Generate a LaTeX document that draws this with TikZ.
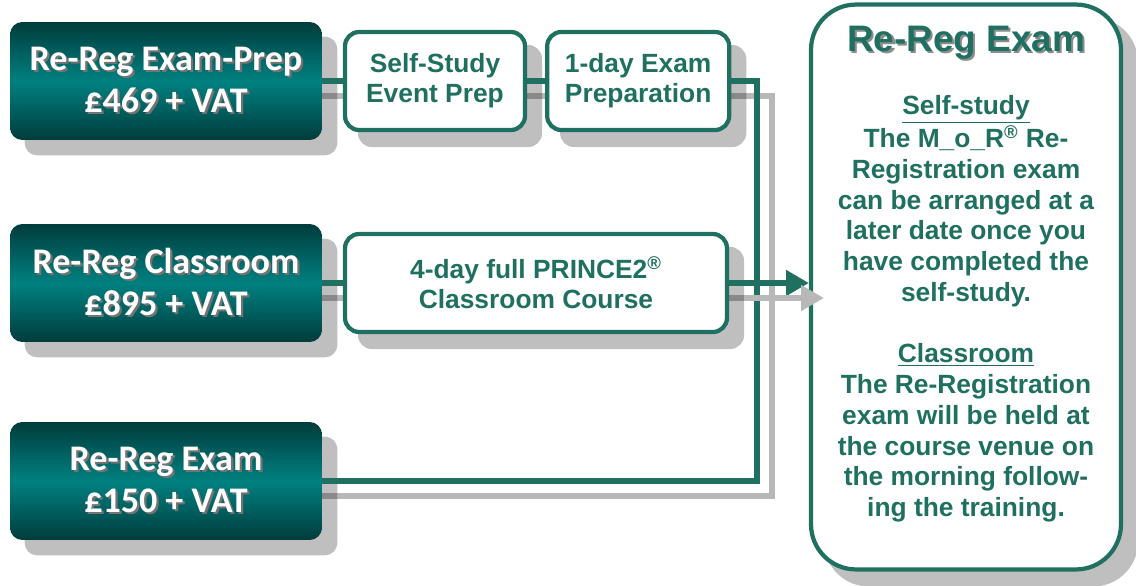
\documentclass[tikz,border=0pt]{standalone}
\usepackage{fontspec}
\setmainfont{Liberation Sans}
\newfontfamily\calibri{Carlito}
\usetikzlibrary{positioning,arrows.meta}
\definecolor{tealdark}{HTML}{003C3C}
\definecolor{tealmid}{HTML}{008080}
\definecolor{tealline}{HTML}{1F7060}
\pgfdeclarelayer{shade}
\pgfdeclarelayer{wires}
\pgfsetlayers{shade,wires,main}
\newcommand\shadowed[2][black!55]{\rlap{\kern1.3pt\raisebox{-1.3pt}{\textcolor{#1}{#2}}}#2}
\tikzset{
  pricebox/.style={rounded corners=7pt, minimum width=6.24cm, minimum height=2.36cm,
    top color=tealdark, bottom color=tealdark, middle color=tealmid,
    text=white, align=center, font=\calibri\bfseries\fontsize{20.5}{24}\selectfont},
  stepbox/.style={draw=tealline, line width=2.4pt, fill=white, rounded corners=8pt,
    minimum height=1.96cm, align=center, text=tealline,
    font=\bfseries\fontsize{15}{17}\selectfont},
  exambox/.style={draw=tealline, line width=2.4pt, fill=white, rounded corners=0.9cm,
    minimum width=6.2cm, minimum height=11.3cm},
  wire/.style={draw=tealline, line width=3.3pt},
  wireshade/.style={draw=black, opacity=0.28, line width=3.3pt},
  boxshade/.style={fill=black!25},
  offs/.style={shift={(15,15)}},
  tip/.style={-{Triangle[length=13pt,width=14pt]}}
}
\begin{document}
\begin{tikzpicture}[x=0.02cm,y=-0.02cm]
  \useasboundingbox (0,0) rectangle (1136,585);
  % prices on the left
  \node[pricebox] (prep) at (166,81) {\shadowed{Re-Reg Exam-Prep}\\\shadowed{£469 + VAT}};
  \node[pricebox] (class) at (166,283) {\shadowed{Re-Reg Classroom}\\\shadowed{£895 + VAT}};
  \node[pricebox] (exam) at (166,481) {\shadowed{Re-Reg Exam}\\\shadowed{£150 + VAT}};
  % course steps
  \node[stepbox, minimum width=3.6cm] (self) at (435,81) {Self-Study\\Event Prep};
  \node[stepbox, minimum width=3.64cm, right=0.36cm of self] (oneday) {1-day Exam\\Preparation};
  \node[stepbox, minimum width=7.64cm] (fourday) at (536,283) {4-day full PRINCE2\textsuperscript{®}\\Classroom Course};
  \coordinate (joint) at (757,283);
  % the exam itself
  \node[exambox] (rereg) at (966,287) {};
  \node[text=tealline, font=\bfseries\fontsize{21}{24}\selectfont] (title) at (966,44)
    {\shadowed[black!45]{Re-Reg Exam}};
  \node[text=tealline, align=center, font=\bfseries\fontsize{15}{17.5}\selectfont] (info) at (966,309)
    {\underline{Self-study}\\The M\_o\_R\textsuperscript{®} Re-\\Registration exam\\can be arranged at a\\
     later date once you\\have completed the\\self-study.\\[17.5pt]
     \underline{Classroom}\\The Re-Registration\\exam will be held at\\the course venue on\\
     the morning follow-\\ing the training.};
  \coordinate (arrowend) at (fourday.east -| rereg.west);
  % connectors
  \begin{pgfonlayer}{wires}
    \draw[wire] (prep) -- (self);
    \draw[wire] (self) -- (oneday);
    \draw[wire] (oneday.east) -| (joint) |- (exam.east);
    \draw[wire] (class) -- (fourday);
    \draw[wire, tip] (fourday.east) -- (arrowend);
  \end{pgfonlayer}
  % shadows
  \begin{pgfonlayer}{shade}
    \foreach \n in {prep,class,exam} {
      \fill[boxshade, rounded corners=7pt] ([offs]\n.north west) rectangle ([offs]\n.south east);
    }
    \foreach \n in {self,oneday,fourday} {
      \fill[boxshade, rounded corners=8pt] ([offs]\n.north west) rectangle ([offs]\n.south east);
    }
    \fill[boxshade, rounded corners=0.9cm] ([offs]rereg.north west) rectangle ([offs]rereg.south east);
    \draw[wireshade] ([offs]prep.center) -- ([offs]oneday.east) -| ([offs]joint) |- ([offs]exam.center);
    \draw[wireshade] ([offs]class.center) -- ([offs]fourday.east);
  \end{pgfonlayer}
  \draw[wire, draw=black!28, tip] ([offs]fourday.east) -- ([offs]arrowend);
\end{tikzpicture}
\end{document}
